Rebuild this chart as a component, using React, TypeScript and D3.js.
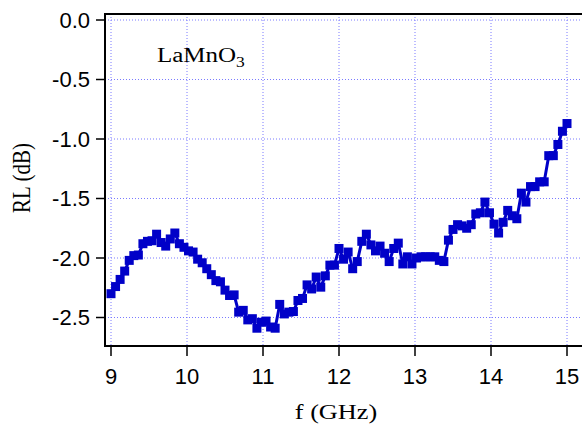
import React from "react";
import * as d3 from "d3";

const freqStart = 9;
const freqStep = 0.06;
const rlValues: number[] = [
  -2.30, -2.24, -2.18, -2.11, -2.02, -1.98, -1.975, -1.88, -1.86, -1.855,
  -1.80, -1.87, -1.90, -1.84, -1.79, -1.88, -1.91, -1.94, -1.95, -2.01,
  -2.04, -2.09, -2.14, -2.19, -2.20, -2.27, -2.315, -2.31, -2.455, -2.44,
  -2.52, -2.51, -2.59, -2.54, -2.53, -2.58, -2.59, -2.39, -2.47, -2.455,
  -2.45, -2.357, -2.34, -2.226, -2.26, -2.16, -2.245, -2.15, -2.06, -2.06,
  -1.92, -2.01, -1.95, -2.09, -2.03, -1.86, -1.80, -1.89, -1.94, -1.90,
  -1.96, -2.03, -1.92, -1.875, -2.05, -1.99, -2.05, -2.00, -1.99, -1.99,
  -1.99, -1.99, -2.02, -2.03, -1.85, -1.76, -1.72, -1.73, -1.75, -1.72,
  -1.63, -1.62, -1.53, -1.62, -1.715, -1.79, -1.70, -1.60, -1.645, -1.67,
  -1.455, -1.53, -1.40, -1.40, -1.36, -1.36, -1.14, -1.14, -1.046, -0.935,
  -0.87,
];
const xTicks = [9, 10, 11, 12, 13, 14, 15];
const yTicks = [0, -0.5, -1.0, -1.5, -2.0, -2.5];
const xLabel = "f (GHz)";
const yLabel = "RL (dB)";

export default function App() {
  const W = 582, H = 426;
  const left = 105, right = 590, top = 14, bottom = 346;
  const x = d3.scaleLinear().domain([9, 15]).range([111, 567]);
  const y = d3.scaleLinear().domain([0, -2.5]).range([20, 317.5]);
  const data = rlValues.map((v, i) => ({ f: freqStart + i * freqStep, v }));
  const line = d3.line<{ f: number; v: number }>().x(d => x(d.f)).y(d => y(d.v));
  const blue = "#0000c8";
  const grid = "#7a7aff";
  const sans = "'Liberation Sans', Arial, sans-serif";
  const serif = "'Liberation Serif', 'Times New Roman', serif";
  return (
    <svg width={W} height={H} style={{ position: "absolute", left: 0, top: 0, background: "#fff" }}>
      <rect x={0} y={0} width={W} height={H} fill="#fff" />
      {xTicks.map(t => (
        <line key={"gx" + t} x1={x(t)} x2={x(t)} y1={top} y2={bottom} stroke={grid} strokeWidth={1} strokeDasharray="1,2" />
      ))}
      {yTicks.map(t => (
        <line key={"gy" + t} x1={left} x2={right} y1={y(t)} y2={y(t)} stroke={grid} strokeWidth={1} strokeDasharray="1,2" />
      ))}
      <path d={`M${right},${top}H${left}V${bottom}H${right}`} fill="none" stroke="#000" strokeWidth={2} />
      {xTicks.map(t => (
        <g key={"xt" + t}>
          <line x1={x(t)} x2={x(t)} y1={bottom} y2={356} stroke="#000" strokeWidth={1.5} />
          <text x={x(t)} y={384} textAnchor="middle" fontFamily={sans} fontSize={22}>{t}</text>
        </g>
      ))}
      {yTicks.map(t => (
        <g key={"yt" + t}>
          <line x1={96} x2={left} y1={y(t)} y2={y(t)} stroke="#000" strokeWidth={1.5} />
          <text x={90} y={y(t)} dy="0.36em" textAnchor="end" fontFamily={sans} fontSize={22}>{t.toFixed(1)}</text>
        </g>
      ))}
      <g transform="translate(336,419) scale(1.25,1)">
        <text x={0} y={0} textAnchor="middle" fontFamily={serif} fontSize={21}>{xLabel}</text>
      </g>
      <g transform="translate(30,178) scale(1.2,1) rotate(-90)">
        <text x={0} y={0} textAnchor="middle" fontFamily={serif} fontSize={21}>{yLabel}</text>
      </g>
      <g transform="translate(157,62) scale(1.25,1)">
        <text x={0} y={0} fontFamily={serif} fontSize={20}>
          LaMnO<tspan fontSize={14} dy={5}>3</tspan>
        </text>
      </g>
      <path d={line(data) || ""} fill="none" stroke={blue} strokeWidth={3} />
      {data.map((d, i) => (
        <rect key={i} x={x(d.f) - 4.5} y={y(d.v) - 4.5} width={9} height={9} fill={blue} />
      ))}
    </svg>
  );
}
